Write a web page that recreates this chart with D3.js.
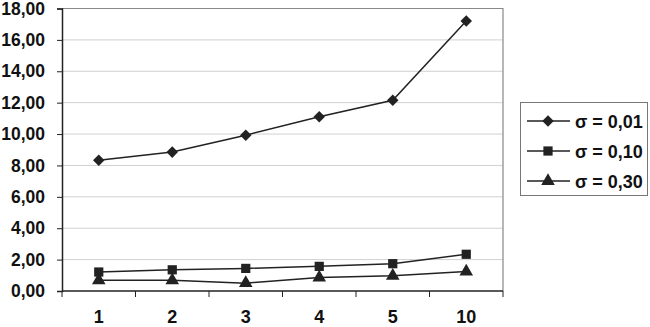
<!DOCTYPE html>
<html>
<head>
<meta charset="utf-8">
<script src="https://cdn.jsdelivr.net/npm/d3@7"></script>
<style>
  body { margin: 0; background: #fff; }
  svg text { font-family: "Liberation Sans", Arial, sans-serif; font-weight: bold; fill: #111; }
</style>
</head>
<body>
<svg id="chart" width="650" height="327"></svg>
<script>
const categories = ['1', '2', '3', '4', '5', '10'];
const yTicks = [0, 2, 4, 6, 8, 10, 12, 14, 16, 18];
const s001 = [8.33, 8.85, 9.93, 11.1, 12.15, 17.2];
const s010 = [1.21, 1.35, 1.44, 1.57, 1.74, 2.34];
const s030 = [0.68, 0.68, 0.5, 0.86, 0.97, 1.24];
const seriesNames = ['σ = 0,01', 'σ = 0,10', 'σ = 0,30'];

const series = [
	{ name: seriesNames[0], values: s001, symbol: d3.symbolDiamond2, size: 85 },
	{ name: seriesNames[1], values: s010, symbol: d3.symbolSquare, size: 85 },
	{ name: seriesNames[2], values: s030, symbol: d3.symbolTriangle, size: 80 }
];

const svg = d3.select('#chart');
const ink = '#222';

const plotLeft = 62, plotRight = 503, plotTop = 8.5, plotBottom = 291;

const x = d3.scaleBand().domain(categories).range([plotLeft, plotRight]);
const y = d3.scaleLinear().domain([0, 18]).range([plotBottom, plotTop]);

// gridlines
svg.append('g')
	.selectAll('line')
	.data(yTicks.filter(d => d > 0))
	.join('line')
	.attr('x1', plotLeft).attr('x2', plotRight)
	.attr('y1', d => y(d)).attr('y2', d => y(d))
	.attr('stroke', '#d0d0d0')
	.attr('stroke-width', 1);

// top and right border
svg.append('path')
	.attr('d', `M${plotLeft},${y(18)}H${plotRight}V${plotBottom}`)
	.attr('fill', 'none')
	.attr('stroke', '#888')
	.attr('stroke-width', 1.2);

// y axis
const yAxis = svg.append('g')
	.attr('transform', `translate(${plotLeft},0)`)
	.call(d3.axisLeft(y).tickValues(yTicks).tickSize(5).tickPadding(12)
		.tickFormat(d => d3.format('.2f')(d).replace('.', ',')));
yAxis.select('.domain').attr('stroke', ink).attr('stroke-width', 1.5);
yAxis.selectAll('.tick line').attr('stroke', ink);
yAxis.selectAll('.tick text').attr('font-size', 17.5).attr('fill', '#111');

// x axis with ticks between categories
const xAxis = svg.append('g')
	.attr('transform', `translate(0,${plotBottom})`);
xAxis.append('line')
	.attr('x1', plotLeft).attr('x2', plotRight)
	.attr('stroke', ink).attr('stroke-width', 1.5);
const edges = categories.map(c => x(c)).concat([plotRight]);
xAxis.selectAll('.edge')
	.data(edges)
	.join('line')
	.attr('class', 'edge')
	.attr('x1', d => d).attr('x2', d => d)
	.attr('y1', 0).attr('y2', 6)
	.attr('stroke', ink);
xAxis.selectAll('text')
	.data(categories)
	.join('text')
	.attr('x', d => x(d) + x.bandwidth() / 2)
	.attr('y', 32)
	.attr('text-anchor', 'middle')
	.attr('font-size', 18)
	.text(d => d);

// lines and markers
const line = d3.line()
	.x((d, i) => x(categories[i]) + x.bandwidth() / 2)
	.y(d => y(d));

series.forEach(s => {
	svg.append('path')
		.datum(s.values)
		.attr('d', line)
		.attr('fill', 'none')
		.attr('stroke', ink)
		.attr('stroke-width', 1.5);
	svg.append('g')
		.selectAll('path')
		.data(s.values)
		.join('path')
		.attr('transform', (d, i) => `translate(${x(categories[i]) + x.bandwidth() / 2},${y(d)})`)
		.attr('d', d3.symbol().type(s.symbol).size(s.size))
		.attr('fill', ink);
});

// legend
const legend = svg.append('g');
legend.append('rect')
	.attr('x', 520.5).attr('y', 102.5)
	.attr('width', 127).attr('height', 93)
	.attr('fill', '#fff')
	.attr('stroke', '#777')
	.attr('stroke-width', 1);
const rowY = d3.scalePoint().domain(seriesNames).range([121, 181]);
series.forEach(s => {
	const yy = rowY(s.name);
	legend.append('line')
		.attr('x1', 527).attr('x2', 570)
		.attr('y1', yy).attr('y2', yy)
		.attr('stroke', ink).attr('stroke-width', 1.5);
	legend.append('path')
		.attr('transform', `translate(548,${yy})`)
		.attr('d', d3.symbol().type(s.symbol).size(s.size))
		.attr('fill', ink);
	legend.append('text')
		.attr('x', 575).attr('y', yy + 6.5)
		.attr('font-size', 18)
		.text(s.name);
});
</script>
</body>
</html>
